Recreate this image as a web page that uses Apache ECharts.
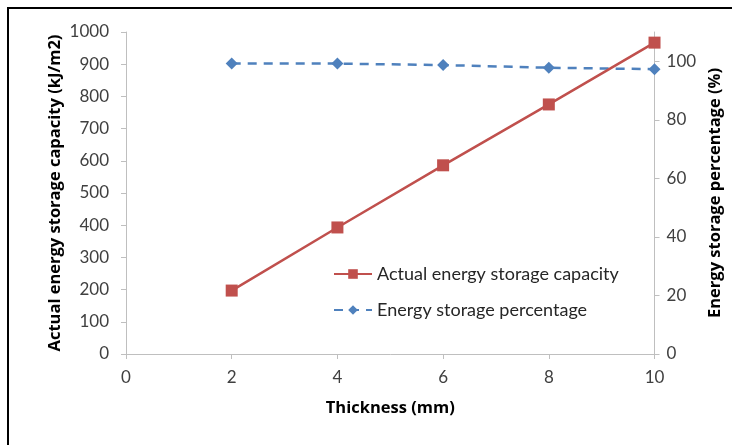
<!DOCTYPE html>
<html>
<head>
<meta charset="utf-8">
<script src="https://cdn.jsdelivr.net/npm/echarts@6/dist/echarts.min.js"></script>
<style>
  html, body { margin: 0; padding: 0; background: #fff; }
  #chart { width: 732px; height: 445px; }
</style>
</head>
<body>
<div id="chart"></div>
<script>
const thickness = [2, 4, 6, 8, 10]
const capacity = [197, 393, 586, 775, 967]
const percentage = [99.2, 99.2, 98.7, 97.8, 97.3]
const rightTicks = [0, 20, 40, 60, 80, 100]

const font = 'Lato, "Open Sans", sans-serif'
const titleFont = '"Open Sans", Lato, sans-serif'
const axisGray = '#bfbfbf'

const myChart = echarts.init(document.getElementById('chart'), null, { renderer: 'canvas' })

const option = {
  animation: false,
  textStyle: { fontFamily: font, color: '#404040' },
  graphic: [
    {
      type: 'rect',
      shape: { x: 8, y: 8, width: 800, height: 500 },
      style: { fill: 'none', stroke: '#000', lineWidth: 2 }
    }
  ],
  grid: { left: 126, right: 77, top: 32, bottom: 91 },
  legend: {
    orient: 'vertical',
    left: 333,
    top: 265,
    padding: 0,
    itemWidth: 38,
    itemHeight: 12,
    itemGap: 18,
    textStyle: { fontFamily: font, fontSize: 18, color: '#262626' },
    data: ['Actual energy storage capacity', 'Energy storage percentage']
  },
  xAxis: {
    type: 'value',
    min: 0,
    max: 10,
    interval: 2,
    name: 'Thickness (mm)',
    nameLocation: 'middle',
    nameGap: 46,
    nameTextStyle: { fontFamily: titleFont, fontSize: 16.5, fontWeight: 'bold', color: '#000' },
    axisLine: { lineStyle: { color: axisGray } },
    axisTick: { show: true, length: 5, lineStyle: { color: axisGray } },
    axisLabel: { fontSize: 17, margin: 15, color: '#404040' },
    splitLine: { show: false }
  },
  yAxis: [
    {
      type: 'value',
      min: 0,
      max: 1000,
      interval: 100,
      name: 'Actual energy storage capacity (kJ/m2)',
      nameLocation: 'middle',
      nameGap: 62,
      nameMoveOverlap: false,
      nameTextStyle: { fontFamily: titleFont, fontSize: 16.5, fontWeight: 'bold', color: '#000' },
      axisLine: { show: true, lineStyle: { color: axisGray } },
      axisTick: { show: true, length: 5, lineStyle: { color: axisGray } },
      axisLabel: { fontSize: 17, margin: 17, color: '#404040', formatter: v => String(v) },
      splitLine: { show: false }
    },
    {
      type: 'value',
      min: 0,
      max: 110,
      interval: 20,
      position: 'right',
      name: 'Energy storage percentage (%)',
      nameLocation: 'middle',
      nameGap: 52,
      nameTextStyle: { fontFamily: titleFont, fontSize: 16.5, fontWeight: 'bold', color: '#000' },
      axisLine: { show: true, lineStyle: { color: axisGray } },
      axisTick: { show: true, length: 5, customValues: rightTicks, lineStyle: { color: axisGray } },
      axisLabel: { fontSize: 17, margin: 12, customValues: rightTicks, color: '#404040' },
      splitLine: { show: false }
    }
  ],
  series: [
    {
      name: 'Energy storage percentage',
      type: 'line',
      yAxisIndex: 1,
      data: thickness.map((t, i) => [t, percentage[i]]),
      symbol: 'diamond',
      symbolSize: 12,
      itemStyle: { color: '#4f81bd' },
      lineStyle: { color: '#4f81bd', width: 2.5, type: [9, 7] }
    },
    {
      name: 'Actual energy storage capacity',
      type: 'line',
      yAxisIndex: 0,
      data: thickness.map((t, i) => [t, capacity[i]]),
      symbol: 'rect',
      symbolSize: 12,
      itemStyle: { color: '#c0504d' },
      lineStyle: { color: '#c0504d', width: 2.5 }
    }
  ]
}

myChart.setOption(option)
window.addEventListener('resize', myChart.resize)
</script>
</body>
</html>
